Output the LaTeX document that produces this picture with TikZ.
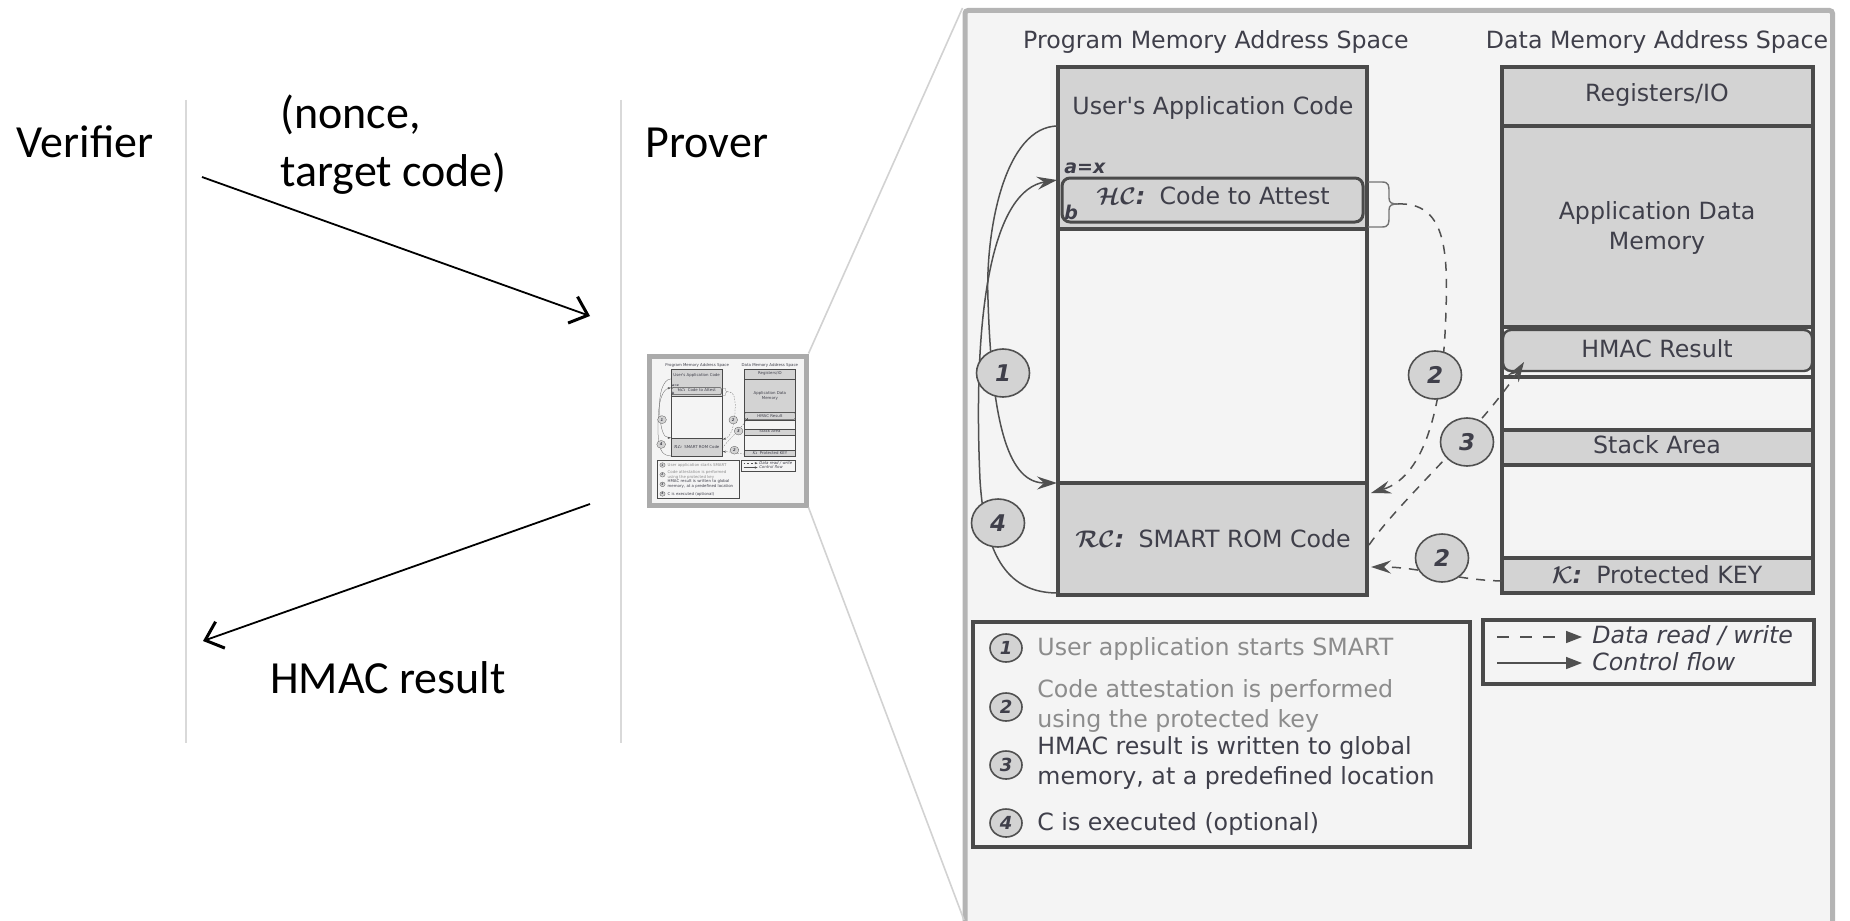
\documentclass[tikz,border=0pt]{standalone}
\usepackage{fontspec}
\usepackage{bm}
\setmainfont{DejaVu Sans}
\newfontfamily\calibfont{Carlito}
\usetikzlibrary{arrows.meta,shapes.geometric,fit,calc}

\definecolor{panelbg}{HTML}{F4F4F4}
\definecolor{framegray}{HTML}{B4B4B4}
\definecolor{thumbframe}{HTML}{ABABAB}
\definecolor{boxfill}{HTML}{D3D3D3}
\definecolor{boxline}{HTML}{4A4A4A}
\definecolor{inkdark}{HTML}{3F3F4A}
\definecolor{inklight}{HTML}{8C8C8C}
\definecolor{flowline}{HTML}{505050}
\definecolor{laneline}{HTML}{D9D9D9}
\definecolor{zoomline}{HTML}{D2D2D2}

\tikzset{
  ptext/.style={font=\fontsize{11.85}{15}\selectfont, text=inkdark, inner sep=0pt},
  ptextlight/.style={ptext, text=inklight},
  pital/.style={font=\fontsize{11.85}{15}\selectfont\itshape, text=inkdark, inner sep=0pt},
  region/.style={draw=boxline, line width=1.8pt, fill=boxfill, inner sep=0pt},
  outerbox/.style={draw=boxline, line width=2pt, inner sep=0pt},
  numbadge/.style={ellipse, draw=flowline, line width=0.8pt, fill=boxfill,
    minimum width=26.5pt, minimum height=24pt, inner sep=0pt,
    font=\fontsize{11.5}{12}\selectfont\bfseries\itshape, text=inkdark},
  smallbadge/.style={ellipse, draw=flowline, line width=0.8pt, fill=boxfill,
    minimum width=16pt, minimum height=14pt, inner sep=0pt,
    font=\fontsize{9}{10}\selectfont\bfseries\itshape, text=inkdark},
  ctrl/.style={draw=flowline, line width=0.75pt,
    -{Stealth[length=10pt,width=6.5pt,inset=3.5pt]}},
  datarw/.style={ctrl, dash pattern=on 4.5pt off 4pt},
  legsolid/.style={draw=flowline, line width=0.75pt,
    -{Triangle[length=8pt,width=6pt]}},
  legdash/.style={legsolid, dash pattern=on 6pt off 5.5pt},
  braceline/.style={draw=flowline!80, line width=0.7pt},
  tag/.style={font=\fontsize{9.5}{10}\selectfont\bfseries\itshape, text=inkdark, inner sep=0pt},
  bigtext/.style={font=\calibfont\fontsize{23}{29}\selectfont, text=black, inner sep=0pt},
  lane/.style={draw=laneline, line width=1pt},
  msg/.style={draw=black, line width=0.9pt,
    -{Straight Barb[length=8pt,width=14pt,line width=1.5pt]}},
}

% Memory layout of a SMART prover, drawn in pixel-like units
% (multi-line labels are placed by the baseline of their last line)
\newcommand\smartpanel{%
  % program memory
  \node[ptext, anchor=base] (pmtitle) at (1216,49) {Program Memory Address Space};
  \node[outerbox, fill=panelbg, fit={(1058,67) (1367,595)}] (pmback) {};
  \node[region, fit={(1058,67) (1367,229)}] (uac) {};
  \node[region, fit={(1058,483) (1367,595)}] (rom) {};
  \node[outerbox, fit={(1058,67) (1367,595)}] (pmem) {};
  \node[region, rounded corners=4pt, line width=1.5pt, fit={(1062,178) (1363,222)}] (hc) {};
  \node[ptext, anchor=base] (uactext) at (1213,114) {User\textquotesingle s Application Code};
  \node[ptext, anchor=base] (hctext) at (1213,204)
    {$\bm{\mathcal{HC}}${\bfseries\itshape :}\hspace{0.6em}Code to Attest};
  \node[ptext, anchor=base] (romtext) at (1213,547)
    {$\bm{\mathcal{RC}}${\bfseries\itshape :}\hspace{0.6em}SMART ROM Code};
  \node[tag, anchor=base west] (ax) at (1064,173) {a=x};
  \node[tag, anchor=base west] (bx) at (1064,219) {b};
  % data memory
  \node[ptext, anchor=base] (dmtitle) at (1657,49) {Data Memory Address Space};
  \node[outerbox, fill=panelbg, fit={(1502,67) (1813,593)}] (dmback) {};
  \node[region, fit={(1502,67) (1813,126)}] (regs) {};
  \node[region, fit={(1502,126) (1813,327)}] (appdata) {};
  \node[outerbox, fit={(1502,377) (1813,430)}] (gapone) {};
  \node[region, rounded corners=4pt, line width=1.2pt, fit={(1503,330) (1812,371)}] (hmac) {};
  \node[region, fit={(1502,430) (1813,465)}] (stack) {};
  \node[region, fit={(1502,558) (1813,593)}] (key) {};
  \node[outerbox, fit={(1502,67) (1813,593)}] (dmem) {};
  \node[ptext, anchor=base] (regstext) at (1657,102) {Registers/IO};
  \node[ptext, anchor=base, align=center] (apptext) at (1657,249) {Application Data\\Memory};
  \node[ptext, anchor=base] (hmactext) at (1657,357) {HMAC Result};
  \node[ptext, anchor=base] (stacktext) at (1657,453) {Stack Area};
  \node[ptext, anchor=base] (keytext) at (1657,583)
    {$\bm{\mathcal{K}}${\bfseries\itshape :}\hspace{0.6em}Protected KEY};
  % brace marking the attested region
  \coordinate (bracetip) at (1398,204);
  \draw[braceline] (1368,182) -- (1382,182) .. controls (1389,182) and (1389,186) .. (1389,192)
    -- (1389,198) .. controls (1389,203) and (1392,204) .. (bracetip);
  \draw[braceline] (1368,227) -- (1382,227) .. controls (1389,227) and (1389,223) .. (1389,217)
    -- (1389,210) .. controls (1389,205) and (1392,204) .. (bracetip);
  % control flow
  \coordinate (cfrom) at (1058,126);
  \coordinate (cto) at (1057,483);
  \draw[ctrl] (cfrom) .. controls (1005,126) and (985,230) .. (988,300)
    .. controls (992,430) and (1010,483) .. (cto);
  \coordinate (dfrom) at (1058,593);
  \coordinate (dto) at (1057,180);
  \draw[ctrl] (dfrom) .. controls (1010,593) and (985,560) .. (980,480)
    .. controls (972,300) and (995,190) .. (dto);
  \node[numbadge] (bone) at (1003,373) {1};
  \node[numbadge] (bfour) at (998,523) {4};
  % data reads and writes
  \coordinate (romin) at (1371,493);
  \draw[datarw] (bracetip) .. controls (1445,202) and (1448,250) .. (1446,310)
    .. controls (1443,420) and (1420,478) .. (romin);
  \coordinate (keyout) at (1502,581);
  \coordinate (romkey) at (1371,567);
  \draw[datarw] (keyout) .. controls (1455,580) and (1420,567) .. (romkey);
  \coordinate (romout) at (1369,545);
  \coordinate (hmacin) at (1524,362);
  \draw[datarw] (romout) .. controls (1400,500) and (1480,430) .. (hmacin);
  \node[numbadge] (btwoa) at (1435,375) {2};
  \node[numbadge] (btwob) at (1442,558) {2};
  \node[numbadge] (bthree) at (1467,442) {3};
  % step legend
  \node[outerbox, fit={(973,622) (1470,847)}] (legsteps) {};
  \node[smallbadge] (lone) at (1006,648) {1};
  \node[smallbadge] (ltwo) at (1006,707) {2};
  \node[smallbadge] (lthree) at (1006,765) {3};
  \node[smallbadge] (lfour) at (1006,823) {4};
  \node[ptextlight, anchor=base west] (lonetext) at (1037,655) {User application starts SMART};
  \node[ptextlight, anchor=base west, align=left] (ltwotext) at (1037,727)
    {Code attestation is performed\\using the protected key};
  \node[ptext, anchor=base west, align=left] (lthreetext) at (1037,784)
    {HMAC result is written to global\\memory, at a predefined location};
  \node[ptext, anchor=base west] (lfourtext) at (1037,830) {C is executed (optional)};
  % line style legend
  \node[outerbox, fit={(1483,620) (1814,684)}] (legstyle) {};
  \coordinate (ldfrom) at (1497,637);
  \coordinate (ldto) at (1582,637);
  \draw[legdash] (ldfrom) -- (ldto);
  \coordinate (lsfrom) at (1497,663);
  \coordinate (lsto) at (1582,663);
  \draw[legsolid] (lsfrom) -- (lsto);
  \node[pital, anchor=base west] (ldtext) at (1592,643) {Data read / write};
  \node[pital, anchor=base west] (lstext) at (1592,670) {Control flow};
}

\begin{document}
\begin{tikzpicture}[x=0.5pt, y=-0.5pt]
  \useasboundingbox (0,0) rectangle (1850,920);
  \fill[white] (0,0) rectangle (1850,920);
  \clip (0,0) rectangle (1850,920);

  % protocol lanes
  \coordinate (laneatop) at (186,100);
  \coordinate (laneabot) at (186,743);
  \coordinate (lanebtop) at (621,100);
  \coordinate (lanebbot) at (621,743);
  \draw[lane] (laneatop) -- (laneabot);
  \draw[lane] (lanebtop) -- (lanebbot);

  \node[bigtext, anchor=base] (verifier) at (85,157) {Verifier};
  \node[bigtext, anchor=base] (prover) at (707,157) {Prover};
  \node[bigtext, anchor=base west, align=left] (challenge) at (280,186) {(nonce,\\target code)};
  \node[bigtext, anchor=base] (response) at (388,693) {HMAC result};

  \coordinate (reqfrom) at (202,177);
  \coordinate (reqto) at (590,316);
  \draw[msg] (reqfrom) -- (reqto);
  \coordinate (respfrom) at (590,504);
  \coordinate (respto) at (203,641);
  \draw[msg] (respfrom) -- (respto);

  % enlarged view of the prover
  \node[fit={(965,10.5) (1832.5,940)}, inner sep=0pt, draw=framegray, line width=2.5pt,
        fill=panelbg, rounded corners=1.5pt] (bigframe) {};
  \smartpanel

  % small copy next to the prover lane
  \node[fit={(649,356) (806,505)}, inner sep=0pt, draw=thumbframe, line width=2.5pt,
        fill=panelbg] (thumb) {};
  \begin{scope}[transform canvas={shift={(496.5,358.1)}, scale=0.165}, name prefix=th-]
    \smartpanel
  \end{scope}

  % zoom guides
  \coordinate (zoomlow) at (964,920);
  \draw[draw=zoomline, line width=0.8pt] (thumb.north east) -- (bigframe.north west);
  \draw[draw=zoomline, line width=0.8pt] (thumb.south east) -- (zoomlow);
\end{tikzpicture}
\end{document}
